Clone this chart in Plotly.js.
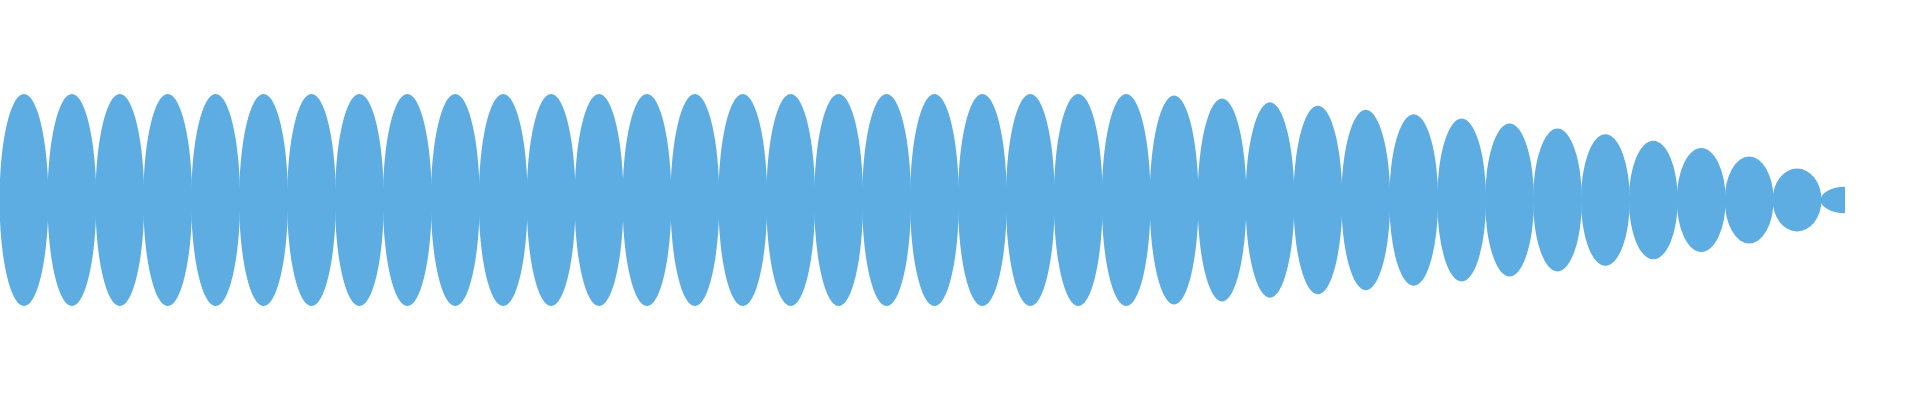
<!DOCTYPE html>
<html>
<head>
<meta charset="utf-8">
<script src="https://cdn.plot.ly/plotly-3.0.1.min.js"></script>
<style>
  html, body { margin: 0; padding: 0; background: #fff; }
</style>
</head>
<body>
<div id="wave" style="width:1920px;height:400px;"></div>
<script>
// position of each lobe on the x axis
const lobes = [
  0, 1, 2, 3, 4, 5, 6, 7, 8, 9,
  10, 11, 12, 13, 14, 15, 16, 17, 18, 19,
  20, 21, 22, 23, 24, 25, 26, 27, 28, 29,
  30, 31, 32, 33, 34, 35, 36, 37, 38,
];

// half-height of each lobe (a full lobe is 1)
const amplitude = [
  1, 1, 1, 1, 1, 1, 1, 1, 1, 1,
  1, 1, 1, 1, 1, 1, 1, 1, 1, 1,
  1, 1, 1, 1, 0.986, 0.957, 0.922, 0.89, 0.851, 0.809,
  0.769, 0.722, 0.674, 0.62, 0.559, 0.491, 0.41, 0.297, 0.125,
];

const lobeHalfWidth = 0.51;
const fillColor = '#5dade2';

const shapes = lobes.map((x, i) => ({
  type: 'circle',
  xref: 'x',
  yref: 'y',
  x0: x - lobeHalfWidth,
  x1: x + lobeHalfWidth,
  y0: -amplitude[i],
  y1: amplitude[i],
  fillcolor: fillColor,
  line: { width: 0 },
  layer: 'above',
}));

const layout = {
  width: 1920,
  height: 400,
  margin: { l: 0, r: 75, t: 0, b: 0 },
  paper_bgcolor: '#fff',
  plot_bgcolor: '#fff',
  showlegend: false,
  xaxis: {
    range: [-0.5, 38],
    visible: false,
    showgrid: false,
    zeroline: false,
  },
  yaxis: {
    range: [-1.887, 1.887],
    visible: false,
    showgrid: false,
    zeroline: false,
  },
  shapes: shapes,
};

const config = {
  displayModeBar: false,
  staticPlot: true,
};

Plotly.newPlot('wave', [], layout, config);
</script>
</body>
</html>
